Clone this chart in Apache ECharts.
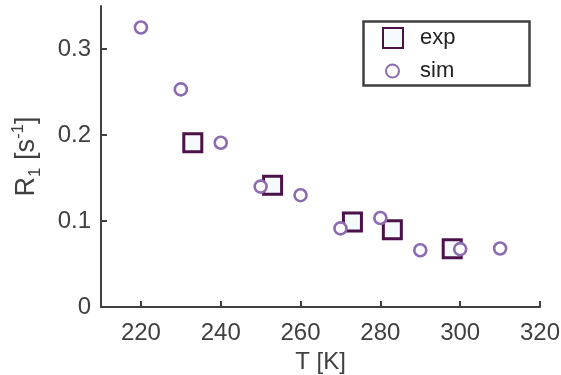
<!DOCTYPE html>
<html>
<head>
<meta charset="utf-8">
<script src="https://cdn.jsdelivr.net/npm/echarts@6/dist/echarts.min.js"></script>
<style>
  html, body { margin: 0; padding: 0; background: #fff; }
  #chart { width: 561px; height: 375px; }
</style>
</head>
<body>
<div id="chart"></div>
<script>
// temperatures [K] and relaxation rates R1 [s^-1]
const expT = [233, 253, 273, 283, 298];
const expR1 = [0.191, 0.1415, 0.0988, 0.0898, 0.0677];
const simT = [220, 230, 240, 250, 260, 270, 280, 290, 300, 310];
const simR1 = [0.325, 0.253, 0.191, 0.140, 0.130, 0.0914, 0.1035, 0.066, 0.0673, 0.068];
const xTicks = [220, 240, 260, 280, 300, 320];
const yTicks = [0, 0.1, 0.2, 0.3];

const axisColor = '#404040';
const font = '"Liberation Sans", Arial, Helvetica, sans-serif';

const chart = echarts.init(document.getElementById('chart'));

chart.setOption({
  backgroundColor: '#fff',
  animation: false,
  textStyle: { fontFamily: font },
  grid: { left: 101, right: 21, top: 6, bottom: 68, containLabel: false, outerBoundsMode: 'none' },
  xAxis: {
    type: 'value',
    min: 210,
    max: 320,
    name: 'T [K]',
    nameLocation: 'middle',
    nameGap: 38,
    nameTextStyle: { fontSize: 24, color: axisColor, fontFamily: font },
    axisLine: { lineStyle: { color: axisColor, width: 2 } },
    axisTick: { inside: true, length: 6, customValues: xTicks, lineStyle: { color: axisColor, width: 2 } },
    axisLabel: { customValues: xTicks, fontSize: 24, color: axisColor, margin: 14, fontFamily: font },
    splitLine: { show: false }
  },
  yAxis: {
    type: 'value',
    min: 0,
    max: 0.35,
    name: '{a|R}{sub|1}{a| [s}{sup|-1}{a|]}',
    nameLocation: 'middle',
    nameGap: 57,
    nameRotate: 90,
    nameTextStyle: {
      color: axisColor,
      fontFamily: font,
      rich: {
        a: { fontSize: 27, color: axisColor, fontFamily: font, lineHeight: 34, verticalAlign: 'middle' },
        sub: { fontSize: 17, color: axisColor, fontFamily: font, lineHeight: 34, verticalAlign: 'bottom' },
        sup: { fontSize: 17, color: axisColor, fontFamily: font, lineHeight: 34, verticalAlign: 'top' }
      }
    },
    axisLine: { show: true, lineStyle: { color: axisColor, width: 2 } },
    axisTick: { show: true, inside: true, length: 6, customValues: yTicks, lineStyle: { color: axisColor, width: 2 } },
    axisLabel: { customValues: yTicks, fontSize: 24, color: axisColor, margin: 10, fontFamily: font },
    splitLine: { show: false }
  },
  legend: [
    {
      data: ['exp'],
      left: 382,
      top: 27,
      padding: 0,
      itemWidth: 20,
      itemHeight: 20,
      icon: 'rect',
      textStyle: { fontSize: 22, color: '#222', fontFamily: font, padding: [0, 0, 0, 12] }
    },
    {
      data: ['sim'],
      left: 385,
      top: 60,
      padding: 0,
      itemWidth: 13,
      itemHeight: 13,
      icon: 'circle',
      textStyle: { fontSize: 22, color: '#222', fontFamily: font, padding: [0, 0, 0, 16] }
    }
  ],
  graphic: [{
    type: 'rect',
    left: 361,
    top: 19,
    shape: { width: 166, height: 64 },
    style: { fill: 'none', stroke: axisColor, lineWidth: 2.5 },
    z: 100
  }],
  series: [
    {
      name: 'exp',
      type: 'scatter',
      symbol: 'rect',
      symbolSize: 18,
      data: expT.map((t, i) => [t, expR1[i]]),
      itemStyle: { color: '#f5fafc', borderColor: '#4a1248', borderWidth: 3, opacity: 1 },
      z: 2
    },
    {
      name: 'sim',
      type: 'scatter',
      symbol: 'circle',
      symbolSize: 12,
      data: simT.map((t, i) => [t, simR1[i]]),
      itemStyle: { color: '#ffffff', borderColor: '#8c6bb1', borderWidth: 2.6, opacity: 1 },
      z: 3
    }
  ]
});
</script>
</body>
</html>
